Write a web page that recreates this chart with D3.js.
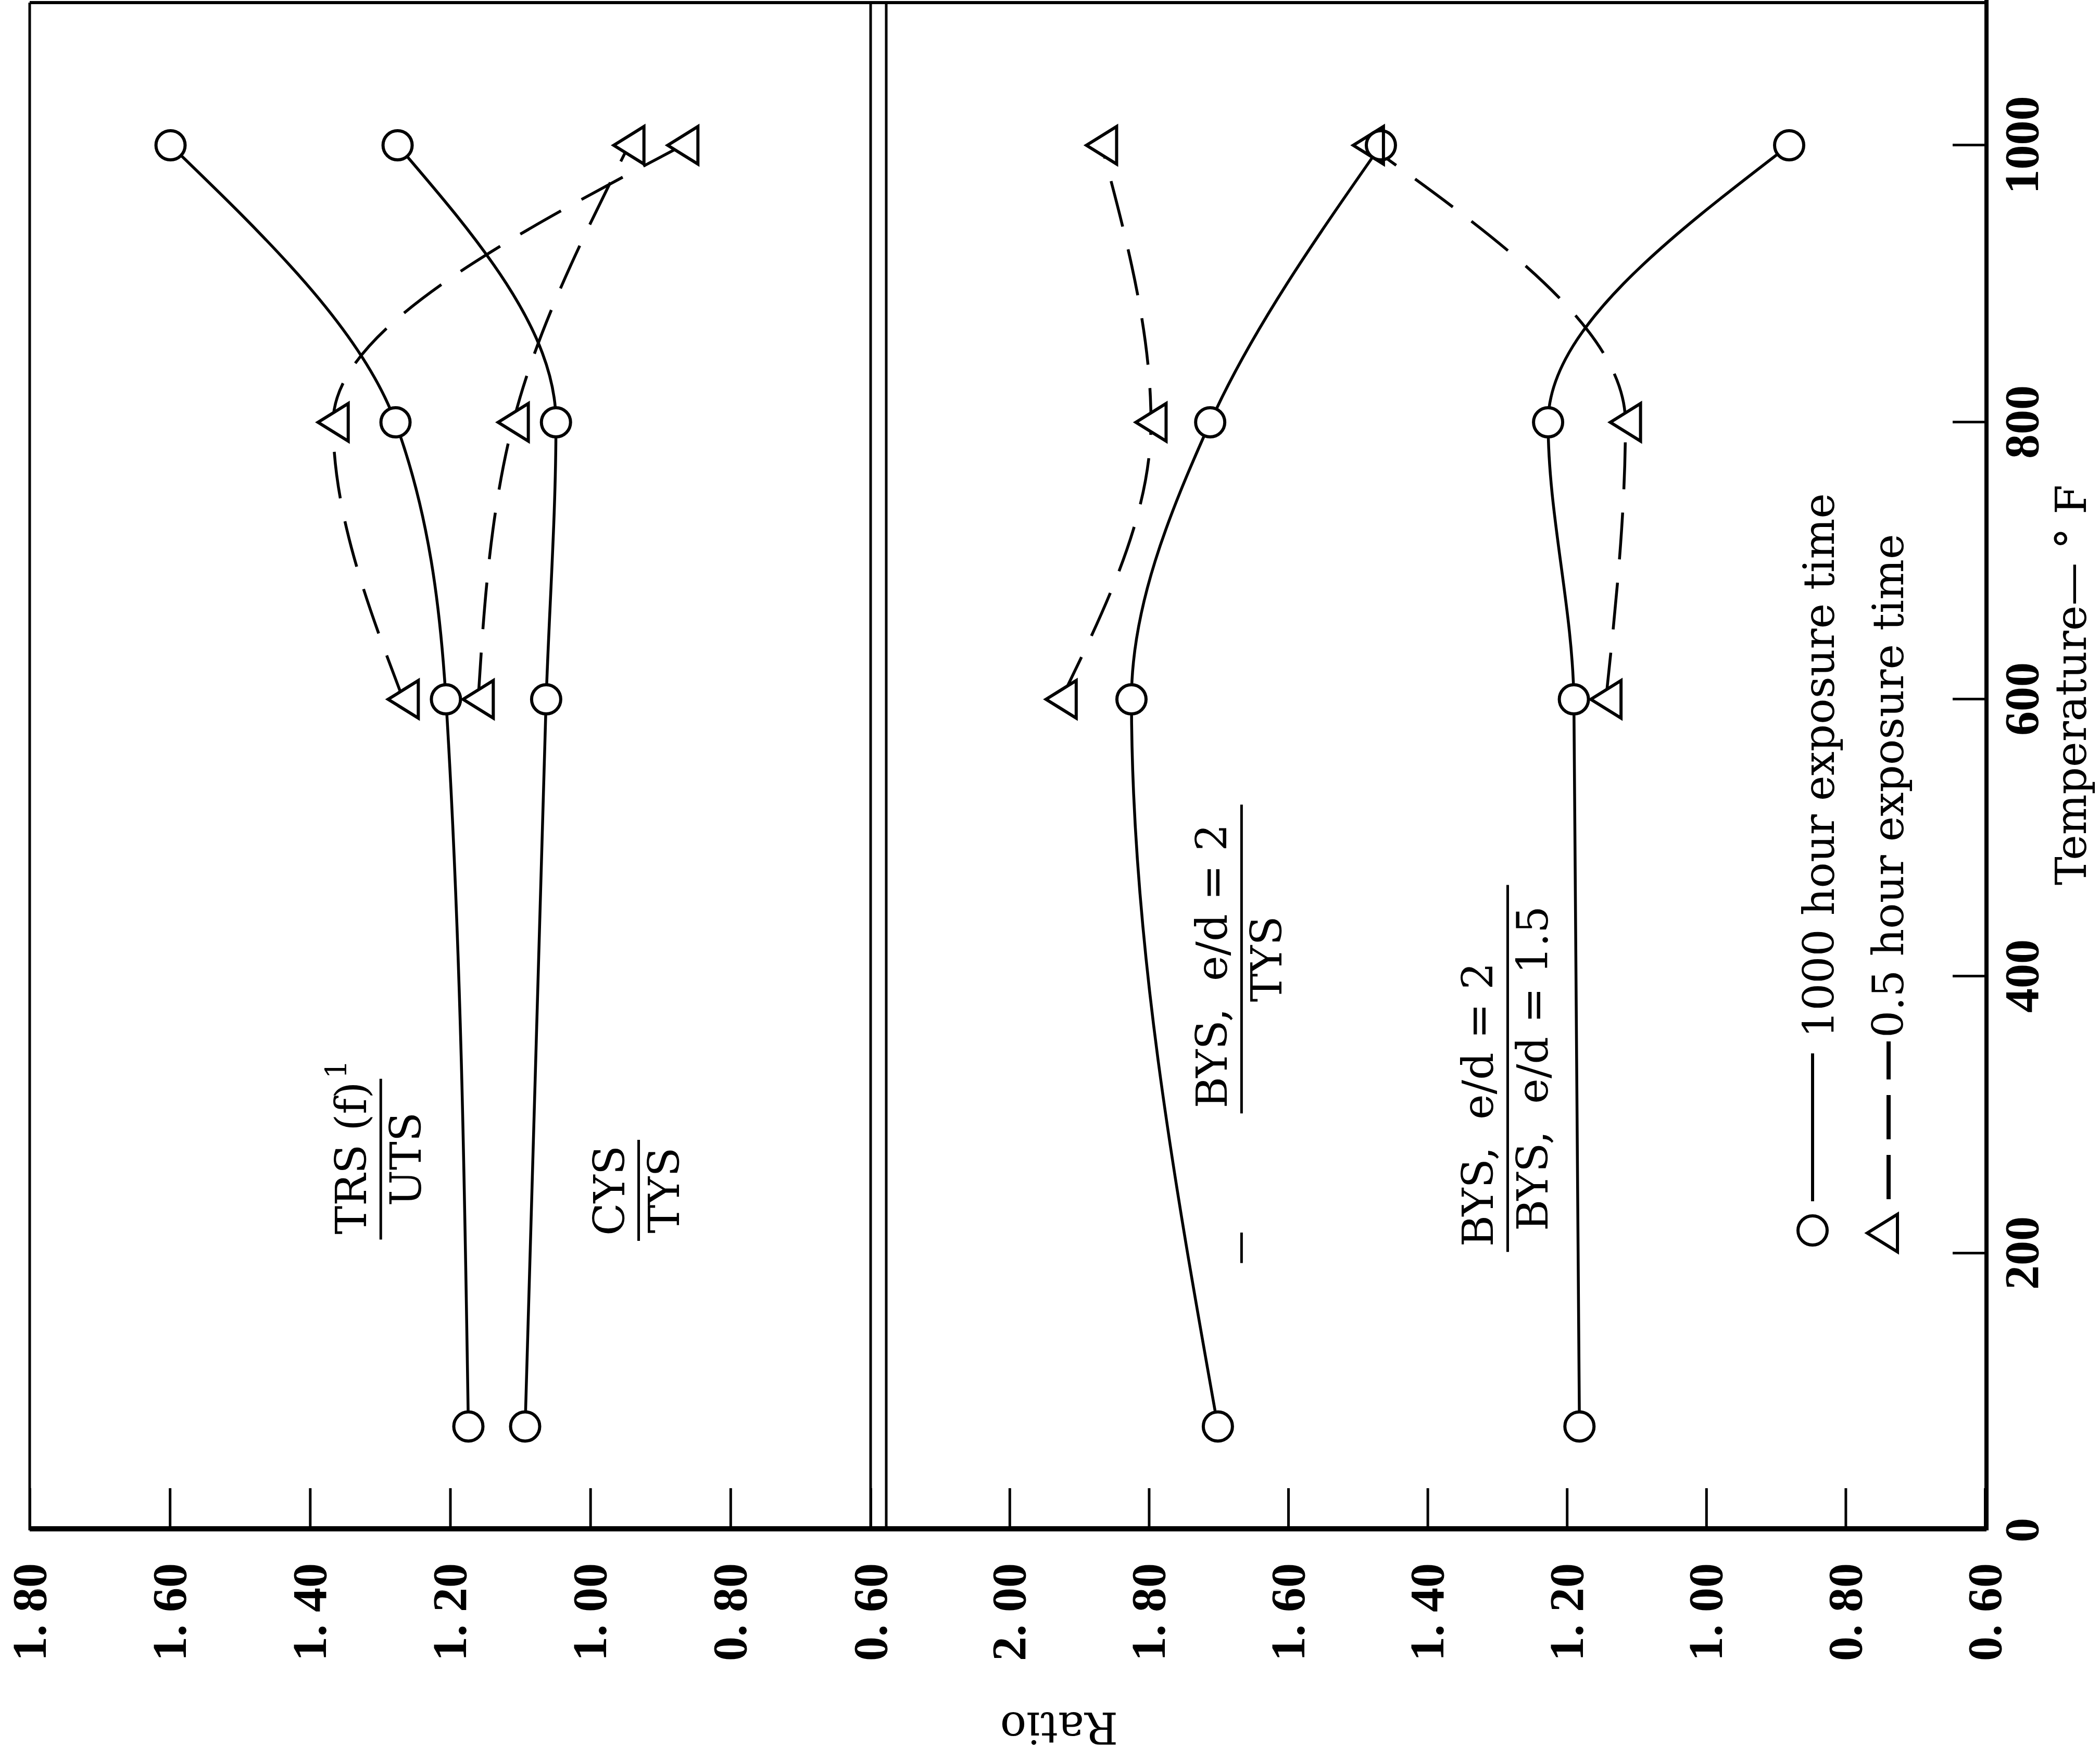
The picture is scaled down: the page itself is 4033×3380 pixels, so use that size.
<!DOCTYPE html>
<html>
<head>
<meta charset="utf-8">
<script src="https://cdn.jsdelivr.net/npm/d3@7"></script>
<style>
  body { margin: 0; background: #fff; }
  svg { display: block; }
</style>
</head>
<body>
<div class="chart"></div>
<script>
// temperatures (deg F) of the test points
var temps = [75, 600, 800, 1000];
var tempsShort = [600, 800, 1000];

// upper panel ratios
var trsUts1000 = [1.174, 1.206, 1.278, 1.599];
var cysTys1000 = [1.093, 1.063, 1.049, 1.275];
var trsUts05 = [1.267, 1.367, 0.868];
var cysTys05 = [1.160, 1.110, 0.945];

// lower panel ratios
var bysTys1000 = [1.701, 1.825, 1.712, 1.467];
var bysBys1000 = [1.182, 1.190, 1.227, 0.881];
var bysTys05 = [1.926, 1.797, 1.868];
var bysBys05 = [1.144, 1.116, 1.485];

var tempTicks = [0, 200, 400, 600, 800, 1000];
var ratioTicks1 = [0.6, 0.8, 1.0, 1.2, 1.4, 1.6, 1.8];
var ratioTicks2 = [0.6, 0.8, 1.0, 1.2, 1.4, 1.6, 1.8, 2.0];

var width = 4033, height = 3380;

var svg = d3.select(".chart")
    .append("svg")
    .attr("width", width)
    .attr("height", height)

svg.append("rect")
    .attr("width", width)
    .attr("height", height)
    .attr("fill", "white")

// the figure is printed sideways: draw it upright, then turn it a quarter left
var plot = svg.append("g")
    .attr("transform", "translate(0," + height + ") rotate(-90)")

var x = d3.scaleLinear().domain([0, 1000]).range([441, 3101]);
var y1 = d3.scaleLinear().domain([0.6, 1.8]).range([1672, 57]);
var y2 = d3.scaleLinear().domain([0.6, 2.177]).range([3812, 1702]);

var serif = "'DejaVu Serif', serif";
var numFont = "'Liberation Serif', 'Times New Roman', serif";

// frame
function frameLine(u1, v1, u2, v2, w) {
    plot.append("line")
        .attr("x1", u1).attr("y1", v1)
        .attr("x2", u2).attr("y2", v2)
        .attr("stroke", "black")
        .attr("stroke-width", w)
}
frameLine(x(0) + 3, y1(1.8), x(0) + 3, y2(0.6) + 3, 10);
frameLine(x(0), y2(0.6) + 3, 3380, y2(0.6) + 3, 8);
frameLine(3375, y1(1.8), 3375, y2(0.6) + 3, 6);
frameLine(x(0), y1(1.8), 3375, y1(1.8), 5);
frameLine(x(0), y1(0.6), 3375, y1(0.6), 5);
frameLine(x(0), y2.range()[1], 3375, y2.range()[1], 5);

function ratioFormat(d) {
    return d3.format(".2f")(d).replace(".", ". ");
}

function styleAxis(g, size) {
    g.select(".domain").remove();
    g.selectAll(".tick line").attr("stroke-width", 5);
    g.attr("font-family", numFont)
        .attr("font-size", size)
        .attr("font-weight", "bold");
}

plot.append("g")
    .attr("transform", "translate(444,0)")
    .call(d3.axisLeft(y1).tickValues(ratioTicks1).tickFormat(ratioFormat)
        .tickSizeInner(-78).tickSizeOuter(0).tickPadding(66))
    .call(styleAxis, 94)

plot.append("g")
    .attr("transform", "translate(444,0)")
    .call(d3.axisLeft(y2).tickValues(ratioTicks2).tickFormat(ratioFormat)
        .tickSizeInner(-78).tickSizeOuter(0).tickPadding(66))
    .call(styleAxis, 94)

plot.append("g")
    .attr("transform", "translate(0," + (y2(0.6) + 3) + ")")
    .call(d3.axisBottom(x).tickValues(tempTicks).tickFormat(d3.format("d"))
        .tickSizeInner(-65).tickSizeOuter(0).tickPadding(32))
    .call(styleAxis, 94)

// axis titles
plot.append("text")
    .attr("transform", "translate(91,2034) rotate(-90)")
    .attr("text-anchor", "middle")
    .attr("font-family", serif)
    .attr("font-size", 84)
    .text("Ratio")

plot.append("text")
    .attr("x", 1680)
    .attr("y", 4006)
    .attr("font-family", serif)
    .attr("font-size", 82)
    .text("Temperature\u2014 \u00b0 F")

// curves
var series = [
    {y: y1, t: temps, v: trsUts1000, mark: "circle", dash: null},
    {y: y1, t: temps, v: cysTys1000, mark: "circle", dash: null},
    {y: y1, t: tempsShort, v: trsUts05, mark: "triangle", dash: "90,45"},
    {y: y1, t: tempsShort, v: cysTys05, mark: "triangle", dash: "90,45"},
    {y: y2, t: temps, v: bysTys1000, mark: "circle", dash: null},
    {y: y2, t: temps, v: bysBys1000, mark: "circle", dash: null},
    {y: y2, t: tempsShort, v: bysTys05, mark: "triangle", dash: "90,45"},
    {y: y2, t: tempsShort, v: bysBys05, mark: "triangle", dash: "90,45"}
];

var triPath = "M0,-29L36,29L-36,29Z";

series.forEach(function(s) {
    var pts = s.t.map(function(t, i) { return [t, s.v[i]]; });
    var line = d3.line()
        .x(function(d) { return x(d[0]); })
        .y(function(d) { return s.y(d[1]); })
        .curve(d3.curveMonotoneX);
    plot.append("path")
        .attr("d", line(pts))
        .attr("fill", "none")
        .attr("stroke", "black")
        .attr("stroke-width", 5.5)
        .attr("stroke-dasharray", s.dash)
    s.pts = pts;
})

function drawMarks(fill, stroke) {
    series.forEach(function(s) {
        var g = plot.append("g");
        s.pts.forEach(function(d) {
            var el;
            if (s.mark === "circle") {
                el = g.append("circle")
                    .attr("cx", x(d[0]))
                    .attr("cy", s.y(d[1]))
                    .attr("r", 28)
            } else {
                el = g.append("path")
                    .attr("d", triPath)
                    .attr("transform", "translate(" + x(d[0]) + "," + s.y(d[1]) + ")")
            }
            el.attr("fill", fill).attr("stroke", stroke).attr("stroke-width", 6)
        })
    })
}
drawMarks("white", "none");
drawMarks("none", "black");

// curve labels (fractions), placed in data units
var fractions = [
    {y: y1, num: "TRS (f)", sup: "1", den: "UTS", r: 1.299, t0: 210, t1: 326},
    {y: y1, num: "CYS", sup: "", den: "TYS", r: 0.931, t0: 209, t1: 282},
    {y: y2, num: "BYS,  e/d = 2", sup: "", den: "TYS", r: 1.667, t0: 301, t1: 524},
    {y: y2, num: "BYS,  e/d = 2", sup: "", den: "BYS,  e/d = 1.5", r: 1.285, t0: 201, t1: 466}
];

fractions.forEach(function(f) {
    var v = f.y(f.r);
    plot.append("line")
        .attr("x1", x(f.t0)).attr("x2", x(f.t1))
        .attr("y1", v).attr("y2", v)
        .attr("stroke", "black")
        .attr("stroke-width", 5)
    var num = plot.append("text")
        .attr("x", x(f.t0) + 10)
        .attr("y", v - 28)
        .attr("font-family", serif)
        .attr("font-size", 82)
        .attr("xml:space", "preserve")
        .text(f.num)
    if (f.sup) {
        num.append("tspan")
            .attr("dx", 6)
            .attr("dy", -38)
            .attr("font-size", 56)
            .text(f.sup)
    }
    plot.append("text")
        .attr("x", x((f.t0 + f.t1) / 2))
        .attr("y", v + 77)
        .attr("text-anchor", "middle")
        .attr("font-family", serif)
        .attr("font-size", 82)
        .attr("xml:space", "preserve")
        .text(f.den)
})

// stray short bar left of the BYS/TYS label
plot.append("line")
    .attr("x1", x(193)).attr("x2", x(215))
    .attr("y1", y2(1.667)).attr("y2", y2(1.667))
    .attr("stroke", "black")
    .attr("stroke-width", 5)

// legend
var legend = plot.append("g")

legend.append("line")
    .attr("x1", 1073).attr("x2", 1357)
    .attr("y1", 3481).attr("y2", 3481)
    .attr("stroke", "black")
    .attr("stroke-width", 6)

legend.append("circle")
    .attr("cx", 1017).attr("cy", 3481).attr("r", 28)
    .attr("fill", "white")
    .attr("stroke", "black")
    .attr("stroke-width", 6)

legend.append("text")
    .attr("x", 1387).attr("y", 3522)
    .attr("font-family", serif)
    .attr("font-size", 82)
    .text("1000 hour exposure time")

legend.append("line")
    .attr("x1", 1077).attr("x2", 1380)
    .attr("y1", 3627).attr("y2", 3627)
    .attr("stroke", "black")
    .attr("stroke-width", 8)
    .attr("stroke-dasharray", "85,30")

legend.append("path")
    .attr("d", triPath)
    .attr("transform", "translate(1012,3615)")
    .attr("fill", "white")
    .attr("stroke", "black")
    .attr("stroke-width", 6)

legend.append("text")
    .attr("x", 1387).attr("y", 3655)
    .attr("font-family", serif)
    .attr("font-size", 82)
    .text("0.5 hour exposure time")
</script>
</body>
</html>
